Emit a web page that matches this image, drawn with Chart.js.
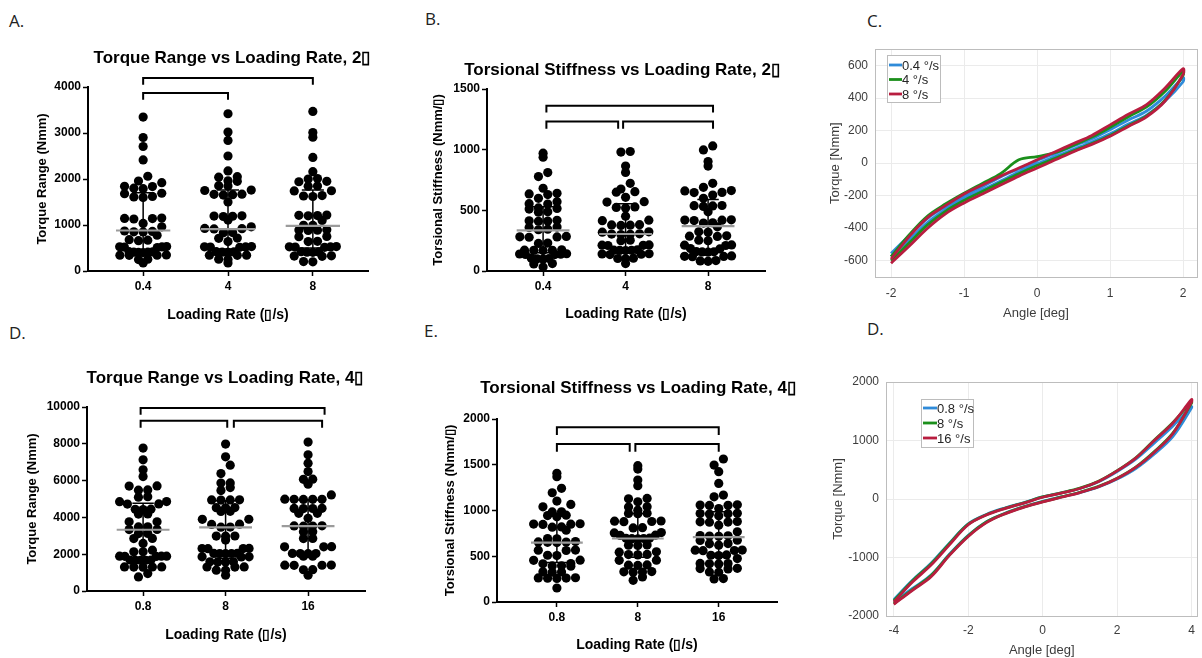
<!DOCTYPE html>
<html>
<head>
<meta charset="utf-8">
<script src="https://cdn.jsdelivr.net/npm/chart.js@4.4.1/dist/chart.umd.min.js"></script>
<style>
  body { margin: 0; background: #fff; }
  #fig { position: relative; width: 1202px; height: 658px; overflow: hidden; background: #fff; }
  canvas { position: absolute; }
  .tag { position: absolute; font: 17px "Open Sans", sans-serif; color: #222; line-height: 1; }
</style>
</head>
<body>
<div id="fig">
  <div class="tag" style="left:9px;top:12px">A.</div>
  <div class="tag" style="left:425px;top:10px">B.</div>
  <div class="tag" style="left:867px;top:12px">C.</div>
  <div class="tag" style="left:9px;top:324px">D.</div>
  <div class="tag" style="left:424px;top:322px">E.</div>
  <div class="tag" style="left:867px;top:320px">D.</div>
  <canvas id="chartA" width="400" height="290" style="left:0;top:35px"></canvas>
  <canvas id="chartB" width="400" height="290" style="left:400px;top:35px"></canvas>
  <canvas id="chartC" width="392" height="300" style="left:810px;top:35px"></canvas>
  <canvas id="chartD" width="400" height="303" style="left:0;top:355px"></canvas>
  <canvas id="chartE" width="400" height="303" style="left:400px;top:355px"></canvas>
  <canvas id="chartF" width="392" height="313" style="left:810px;top:345px"></canvas>
</div>
<script>
"use strict";

Chart.defaults.font.family = '"Liberation Sans", Arial, sans-serif';
Chart.defaults.animation = false;

// Loading rate categories
const rates2 = ['0.4', '4', '8'];
const rates4 = ['0.8', '8', '16'];

// A. Torque range (Nmm), 2 deg
const trq2At04 = [3347, 2902, 2706, 2415, 2060, 1957, 1920, 1840, 1800, 1790, 1835, 1690, 1680, 1610, 1620, 1600,
  1143, 1130, 1140, 1150, 1034, 960, 851, 860, 870, 850, 779, 670, 680, 660, 524, 530, 520, 510, 525,
  415, 420, 410, 400, 410, 405, 342, 350, 340, 345, 249, 255, 175];
const trq2At4 = [3419, 3020, 2838, 2500, 2175, 2050, 2040, 1960, 1950, 1855, 1850, 1760, 1750, 1666, 1660, 1670, 1650,
  1500, 1193, 1190, 1200, 1185, 1107, 960, 920, 925, 915, 830, 835, 710, 715, 640, 524, 530, 520, 515, 525,
  415, 420, 410, 405, 342, 345, 340, 250, 255, 175];
const trq2At8 = [3470, 3010, 2910, 2470, 2160, 2010, 2000, 1940, 1950, 1850, 1845, 1745, 1740, 1630, 1640, 1620,
  1210, 1200, 1215, 1205, 1100, 995, 990, 888, 880, 890, 895, 745, 750, 640, 645, 524, 520, 530, 515, 525,
  415, 420, 410, 405, 320, 325, 330, 200, 205];
const trq2Median = [880, 910, 980];
const trq2Q1 = [450, 480, 500];
const trq2Q3 = [1700, 1760, 1760];
const trq2Ticks = [0, 1000, 2000, 3000, 4000];
// significance brackets: [from, to, bar level, leg end]
const trq2Brackets = [[1, 3, 4196, 4051], [1, 2, 3869, 3724]];

// B. Torsional stiffness, 2 deg
const stf2At04 = [971, 938, 811, 778, 682, 635, 640, 630, 599, 571, 552, 555, 516, 520, 510, 488, 485,
  414, 410, 418, 412, 359, 362, 345, 340, 281, 285, 278, 282, 227, 230, 171, 175, 168, 172, 170,
  138, 140, 135, 142, 136, 103, 100, 106, 98, 61, 58, 33];
const stf2At4 = [985, 980, 865, 812, 723, 676, 654, 650, 607, 571, 568, 524, 520, 528, 452, 419, 415,
  378, 380, 376, 382, 323, 320, 304, 306, 300, 302, 254, 250, 213, 215, 210, 212, 171, 175, 168, 172, 170,
  138, 140, 135, 142, 103, 100, 106, 61];
const stf2At8 = [1031, 998, 902, 865, 723, 690, 663, 660, 646, 648, 626, 599, 536, 540, 532, 538, 488,
  419, 422, 416, 420, 397, 395, 364, 323, 320, 287, 290, 285, 254, 250, 213, 215, 210, 185, 182,
  157, 160, 155, 158, 121, 124, 118, 120, 83, 86, 80];
const stf2Median = [335, 305, 370];
const stf2Q1 = [150, 160, 165];
const stf2Q3 = [530, 555, 590];
const stf2Ticks = [0, 500, 1000, 1500];
const stf2Brackets = [[1.04, 3.06, 1362, 1307], [1.04, 1.91, 1233, 1172], [1.97, 3.06, 1233, 1172]];

// D. Torque range (Nmm), 4 deg
const trq4At08 = [7767, 7130, 6584, 6219, 5711, 5700, 5493, 5480, 5128, 5100, 4855, 4860, 4730, 4725, 4440, 4445, 4430,
  4184, 4180, 3764, 3760, 3491, 3480, 3349, 3340, 3131, 3120, 2858, 2850, 2586, 2220, 2127, 2130,
  1893, 1890, 1885, 1895, 1880, 1675, 1680, 1670, 1685, 1665, 1309, 1300, 1310, 1305, 1290, 949, 764];
const trq4At8 = [7985, 7293, 6838, 6384, 5875, 5870, 5620, 5458, 4948, 4950, 4940, 4955, 4530, 4525, 4535, 4330, 4325,
  3900, 3895, 3630, 3620, 3470, 3475, 2984, 2980, 2990, 2766, 2310, 2305, 2315, 2300, 2038, 2040, 2030, 2045, 2035,
  1856, 1850, 1860, 1584, 1580, 1590, 1575, 1309, 1305, 1300, 1130, 1125, 857];
const trq4At16 = [8094, 7403, 6948, 6493, 6075, 6070, 5802, 5220, 4984, 4980, 4990, 4975, 4985, 4490, 4495, 4485, 4480,
  4221, 4220, 3948, 3530, 3535, 3525, 3540, 3221, 3215, 2858, 2850, 2403, 2400, 2410, 2038, 2040, 2035, 2030,
  1893, 1890, 1400, 1405, 1395, 1410, 1160, 1155, 857];
const trq4Median = [3330, 3460, 3530];
const trq4Q1 = [1760, 1780, 1960];
const trq4Q3 = [4766, 4910, 4950];
const trq4Ticks = [0, 2000, 4000, 6000, 8000, 10000];
const trq4Brackets = [[0.97, 3.2, 9950, 9585], [0.97, 2.02, 9257, 8875], [2.1, 3.17, 9257, 8875]];

// E. Torsional stiffness, 4 deg
const stf4At08 = [1406, 1369, 1242, 1194, 1103, 1066, 1040, 986, 984, 949, 945, 931, 851, 855, 848, 852, 821, 818, 785,
  694, 690, 657, 660, 655, 652, 650, 566, 563, 568, 511, 508, 457, 455, 420, 418, 394, 396, 392,
  328, 325, 330, 263, 265, 260, 262, 258, 153];
const stf4At8 = [1490, 1453, 1333, 1271, 1132, 1128, 1095, 1040, 1038, 1004, 967, 965, 970, 883, 880, 885, 878, 810, 812,
  759, 755, 730, 728, 694, 690, 698, 692, 696, 621, 618, 624, 548, 545, 518, 515, 520, 457, 455,
  402, 400, 405, 328, 325, 330, 332, 274, 237];
const stf4At16 = [1563, 1496, 1424, 1296, 1169, 1150, 1059, 1055, 1062, 1057, 1022, 967, 965, 970, 962, 942, 876, 872, 880, 874,
  840, 767, 723, 720, 726, 718, 675, 672, 639, 636, 621, 566, 563, 568, 561, 511, 508, 514, 475,
  420, 418, 422, 416, 365, 362, 368, 328, 325, 256, 252];
const stf4Median = [650, 694, 710];
const stf4Q1 = [431, 490, 493];
const stf4Q3 = [937, 967, 986];
const stf4Ticks = [0, 500, 1000, 1500, 2000];
const stf4Brackets = [[1, 3, 1909, 1825], [1, 1.9, 1726, 1642], [1.97, 3, 1726, 1642]];

// C. Torque vs angle, 2 deg cycles (lower branch -2 -> 2, upper branch 2 -> -2)
const angle2 = [-2, -1.75, -1.5, -1.25, -1, -0.75, -0.5, -0.25, 0, 0.25, 0.5, 0.75, 1, 1.25, 1.5, 1.75, 2];
const blue2Lower = [-575, -470, -365, -285, -220, -165, -110, -55, -5, 40, 85, 130, 180, 240, 295, 380, 500];
const blue2Upper = [-555, -445, -340, -265, -200, -145, -85, -35, 15, 60, 105, 150, 205, 265, 320, 410, 525];
const green2Lower = [-600, -490, -380, -295, -230, -175, -120, -65, -15, 30, 75, 120, 170, 230, 290, 385, 540];
const green2Upper = [-575, -440, -325, -250, -185, -125, -65, 20, 40, 65, 110, 160, 220, 285, 345, 440, 565];
const red2Lower = [-615, -510, -400, -310, -245, -190, -135, -80, -30, 20, 70, 115, 165, 225, 285, 380, 545];
const red2Upper = [-590, -450, -335, -260, -190, -135, -80, -30, 20, 70, 120, 170, 235, 300, 360, 460, 580];
const angle2Ticks = [-2, -1, 0, 1, 2];
const torque2Ticks = [-600, -400, -200, 0, 200, 400, 600];

// D (right). Torque vs angle, 4 deg cycles
const angle4 = [-4, -3.5, -3, -2.5, -2, -1.5, -1, -0.5, 0, 0.5, 1, 1.5, 2, 2.5, 3, 3.5, 4];
const blue4Lower = [-1760, -1530, -1300, -940, -620, -385, -240, -130, -40, 35, 110, 205, 340, 520, 770, 1070, 1560];
const blue4Upper = [-1720, -1390, -1100, -750, -425, -260, -150, -60, 35, 105, 180, 295, 470, 680, 960, 1250, 1580];
const green4Lower = [-1790, -1550, -1310, -950, -630, -390, -245, -135, -45, 35, 115, 215, 355, 545, 810, 1130, 1640];
const green4Upper = [-1740, -1400, -1110, -760, -430, -265, -155, -65, 35, 105, 185, 305, 485, 705, 1010, 1310, 1660];
const red4Lower = [-1800, -1560, -1330, -960, -640, -400, -250, -140, -50, 30, 110, 210, 350, 540, 800, 1120, 1660];
const red4Upper = [-1760, -1420, -1130, -780, -440, -270, -160, -70, 30, 100, 180, 300, 480, 700, 1000, 1300, 1700];
const angle4Ticks = [-4, -2, 0, 2, 4];
const torque4Ticks = [-2000, -1000, 0, 1000, 2000];

const BLUE = '#2f8bd9', GREEN = '#1b8f1b', RED = '#b81d3f';

// small legend box drawn inside the plot, MATLAB style
const boxLegend = {
    id: 'boxLegend',
    afterDatasetsDraw(chart, args, opts) {
        const {ctx, chartArea} = chart;
        const x = Math.round(chartArea.left + opts.x), y = Math.round(chartArea.top + opts.y);
        ctx.save();
        ctx.fillStyle = '#fff';
        ctx.fillRect(x, y, opts.w, opts.h);
        ctx.strokeStyle = '#bcbcbc';
        ctx.lineWidth = 1;
        ctx.strokeRect(x + 0.5, y + 0.5, opts.w, opts.h);
        ctx.font = '13px "Liberation Sans", Arial, sans-serif';
        ctx.textBaseline = 'middle';
        chart.data.datasets.forEach((d, i) => {
            const ry = y + opts.first + i * opts.step;
            ctx.strokeStyle = d.borderColor;
            ctx.lineWidth = 2.8;
            ctx.beginPath();
            ctx.moveTo(x + opts.lineStart, ry);
            ctx.lineTo(x + opts.lineStart + opts.lineLen, ry);
            ctx.stroke();
            ctx.fillStyle = '#262626';
            ctx.fillText(d.label, x + opts.lineStart + opts.lineLen, ry + 1);
        });
        ctx.restore();
    }
};

// Prism style chart title, placed from the plot area
const panelTitle = {
    id: 'panelTitle',
    afterDraw(chart, args, o) {
        const {ctx, chartArea} = chart;
        ctx.save();
        ctx.font = 'bold 17px "Liberation Sans", Arial, sans-serif';
        ctx.fillStyle = '#000';
        ctx.textAlign = 'center';
        ctx.textBaseline = 'middle';
        ctx.fillText(o.text, (chartArea.left + chartArea.right) / 2 + o.dx, chartArea.top - o.dy);
        ctx.restore();
    }
};

function pathSet(points, color, width, order) {
    return {
        data: points, showLine: true, borderColor: color, borderWidth: width,
        pointRadius: 0, pointHoverRadius: 0, tension: 0, clip: false, order: order,
        borderCapStyle: 'butt', borderJoinStyle: 'miter'
    };
}

function fixedTicks(list) {
    return function (scale) {
        scale.ticks = list.map(v => ({value: v}));
    };
}

const plain = v => String(v);

// move the plot area onto the spot it has in the figure
function fitArea(chart, canvasPos, area) {
    for (let k = 0; k < 3; k++) {
        const a = chart.chartArea;
        const p = chart.config.options.layout.padding;
        p.left += (area.l - canvasPos.l) - a.left;
        p.top += (area.t - canvasPos.t) - a.top;
        p.right += a.right - (area.r - canvasPos.l);
        p.bottom += a.bottom - (area.b - canvasPos.t);
        chart.update('none');
    }
}

// Prism scatter dot layout: values are binned in pixel rows one dot high,
// each row is centred, lowest value in the middle, crowded rows squeezed
function swarm(chart, groups) {
    const xs = chart.scales.x, ys = chart.scales.y;
    const pxPerUnit = xs.getPixelForValue(1) - xs.getPixelForValue(0);
    const base = ys.getPixelForValue(0);
    const H = 9, S = 9.3, HALF = 23.5;
    const pts = [];
    groups.forEach((vals, gi) => {
        const bins = new Map();
        vals.forEach(v => {
            const b = Math.floor((base - ys.getPixelForValue(v)) / H);
            if (!bins.has(b)) bins.set(b, []);
            bins.get(b).push(v);
        });
        bins.forEach(list => {
            list.sort((a, b) => a - b);
            const n = list.length;
            const s = n > 1 ? Math.min(S, 2 * HALF / (n - 1)) : 0;
            const mid = (n - 1) / 2;
            const slots = [...Array(n).keys()].sort((a, b) => Math.abs(a - mid) - Math.abs(b - mid) || a - b);
            list.forEach((v, k) => pts.push({x: gi + 1 + (slots[k] - mid) * s / pxPerUnit, y: v}));
        });
    });
    chart.data.datasets[0].data = pts;
    chart.update('none');
}

function dotPanel(id, canvasPos, area, p) {
    const sets = [{
        data: p.groups.map((g, i) => ({x: i + 1, y: g[0]})),
        pointRadius: 4.6, pointHoverRadius: 4.6, pointBackgroundColor: '#000',
        pointBorderWidth: 0, showLine: false, order: 3
    }];
    p.groups.forEach((g, i) => {
        const c = i + 1, w = 0.13;
        sets.push(pathSet([{x: c - w, y: p.q3[i]}, {x: c + w, y: p.q3[i]}, {x: c, y: p.q3[i]},
            {x: c, y: p.q1[i]}, {x: c - w, y: p.q1[i]}, {x: c + w, y: p.q1[i]}], '#000', 1.5, 2));
        sets.push(pathSet([{x: c - 0.32, y: p.median[i]}, {x: c + 0.32, y: p.median[i]}], '#9b9b9b', 2.2, 1));
    });
    p.brackets.forEach(b => {
        sets.push(pathSet([{x: b[0], y: b[3]}, {x: b[0], y: b[2]}, {x: b[1], y: b[2]}, {x: b[1], y: b[3]}], '#000', 2, 0));
    });

    const chart = new Chart(document.getElementById(id), {
        type: 'scatter',
        data: {datasets: sets},
        plugins: [panelTitle],
        options: {
            responsive: false,
            layout: {padding: {left: 0, top: 0, right: 0, bottom: 0}},
            plugins: {
                legend: {display: false},
                tooltip: {enabled: false},
                panelTitle: {text: p.title, dx: p.titleDx, dy: p.titleDy}
            },
            scales: {
                x: {
                    type: 'linear', min: p.xMin, max: p.xMax,
                    afterBuildTicks: fixedTicks([1, 2, 3]),
                    ticks: {callback: (v, i) => p.cats[i], color: '#000', padding: 3, font: {size: 12, weight: 'bold'}},
                    grid: {display: true, drawOnChartArea: false, drawTicks: true, tickLength: 5, tickColor: '#000', tickWidth: 1.5},
                    border: {display: true, color: '#000', width: 2},
                    title: {display: true, text: 'Loading Rate (\u25AF/s)', color: '#000',
                        font: {size: 14, weight: 'bold'}, padding: {top: p.xTitleGap, bottom: 0}}
                },
                y: {
                    type: 'linear', min: 0, max: p.yTicks[p.yTicks.length - 1],
                    afterBuildTicks: fixedTicks(p.yTicks),
                    ticks: {callback: plain, color: '#000', padding: 2, font: {size: 12, weight: 'bold'}},
                    grid: {display: true, drawOnChartArea: false, drawTicks: true, tickLength: 5, tickColor: '#000', tickWidth: 1.5},
                    border: {display: true, color: '#000', width: 2},
                    title: {display: true, text: p.yTitle, color: '#000',
                        font: {size: 13, weight: 'bold'}, padding: {top: 0, bottom: p.yTitleGap}}
                }
            }
        }
    });
    fitArea(chart, canvasPos, area);
    swarm(chart, p.groups);
    return chart;
}

function loop(angles, lower, upper) {
    const pts = angles.map((a, i) => ({x: a, y: lower[i]}));
    for (let i = angles.length - 1; i >= 0; i--) pts.push({x: angles[i], y: upper[i]});
    return pts;
}

function curvePanel(id, canvasPos, area, p) {
    const mk = (label, color, pts, order) => ({
        label: label, data: pts, showLine: true, borderColor: color, borderWidth: 2.8,
        pointRadius: 0, pointHoverRadius: 0, tension: 0.35, order: order
    });
    const axisGray = '#bdbdbd', textGray = '#3c3c3c';
    const chart = new Chart(document.getElementById(id), {
        type: 'scatter',
        data: {datasets: [
            mk(p.labels[0], BLUE, p.blue, 3),
            mk(p.labels[1], GREEN, p.green, 2),
            mk(p.labels[2], RED, p.red, 1)
        ]},
        plugins: [boxLegend],
        options: {
            responsive: false,
            layout: {padding: {left: 0, top: 0, right: 0, bottom: 0}},
            plugins: {
                legend: {display: false},
                tooltip: {enabled: false},
                boxLegend: p.legend
            },
            scales: {
                x: {
                    type: 'linear', min: p.xMin, max: p.xMax,
                    afterBuildTicks: fixedTicks(p.xTicks),
                    ticks: {callback: plain, color: textGray, padding: p.xTickPad, font: {size: 12}},
                    grid: {color: '#ebebeb', drawTicks: false},
                    border: {display: true, color: axisGray, width: 1},
                    title: {display: true, text: 'Angle [deg]', color: textGray, font: {size: 13}, padding: {top: p.xTitleGap, bottom: 0}}
                },
                y: {
                    type: 'linear', min: p.yMin, max: p.yMax,
                    afterBuildTicks: fixedTicks(p.yTicks),
                    ticks: {callback: plain, color: textGray, padding: 7, font: {size: 12}},
                    grid: {color: '#ebebeb', drawTicks: false},
                    border: {display: true, color: axisGray, width: 1},
                    title: {display: true, text: 'Torque [Nmm]', color: textGray, font: {size: 13}, padding: {top: 0, bottom: p.yTitleGap}}
                },
                x2: {
                    type: 'linear', position: 'top', min: p.xMin, max: p.xMax,
                    ticks: {display: false}, grid: {display: false, drawTicks: false},
                    border: {display: true, color: axisGray, width: 1}
                },
                y2: {
                    type: 'linear', position: 'right', min: p.yMin, max: p.yMax,
                    ticks: {display: false}, grid: {display: false, drawTicks: false},
                    border: {display: true, color: axisGray, width: 1}
                }
            }
        }
    });
    fitArea(chart, canvasPos, area);
    return chart;
}

dotPanel('chartA', {l: 0, t: 35}, {l: 88, t: 87, r: 368, b: 271}, {
    title: 'Torque Range vs Loading Rate, 2\u25AF', titleDx: 4, titleDy: 29,
    yTitle: 'Torque Range (Nmm)', yTitleGap: 2, xTitleGap: 10,
    cats: rates2, xMin: 0.35, xMax: 3.65, yTicks: trq2Ticks,
    groups: [trq2At04, trq2At4, trq2At8],
    median: trq2Median, q1: trq2Q1, q3: trq2Q3, brackets: trq2Brackets
});

dotPanel('chartB', {l: 400, t: 35}, {l: 487, t: 89, r: 765, b: 271}, {
    title: 'Torsional Stiffness vs Loading Rate, 2\u25AF', titleDx: -4, titleDy: 19,
    yTitle: 'Torsional Stiffness (Nmm/\u25AF)', yTitleGap: 5, xTitleGap: 9,
    cats: rates2, xMin: 0.32, xMax: 3.69, yTicks: stf2Ticks,
    groups: [stf2At04, stf2At4, stf2At8],
    median: stf2Median, q1: stf2Q1, q3: stf2Q3, brackets: stf2Brackets
});

dotPanel('chartD', {l: 0, t: 355}, {l: 87, t: 407, r: 365, b: 591}, {
    title: 'Torque Range vs Loading Rate, 4\u25AF', titleDx: -1, titleDy: 29,
    yTitle: 'Torque Range (Nmm)', yTitleGap: 4, xTitleGap: 10,
    cats: rates4, xMin: 0.32, xMax: 3.69, yTicks: trq4Ticks,
    groups: [trq4At08, trq4At8, trq4At16],
    median: trq4Median, q1: trq4Q1, q3: trq4Q3, brackets: trq4Brackets
});

dotPanel('chartE', {l: 400, t: 355}, {l: 497, t: 419, r: 777, b: 602}, {
    title: 'Torsional Stiffness vs Loading Rate, 4\u25AF', titleDx: 1, titleDy: 31,
    yTitle: 'Torsional Stiffness (Nmm/\u25AF)', yTitleGap: 3, xTitleGap: 9,
    cats: rates4, xMin: 0.26, xMax: 3.72, yTicks: stf4Ticks,
    groups: [stf4At08, stf4At8, stf4At16],
    median: stf4Median, q1: stf4Q1, q3: stf4Q3, brackets: stf4Brackets
});

curvePanel('chartC', {l: 810, t: 35}, {l: 875, t: 47, r: 1197, b: 277}, {
    labels: ['0.4 \u00B0/s', '4 \u00B0/s', '8 \u00B0/s'],
    blue: loop(angle2, blue2Lower, blue2Upper),
    green: loop(angle2, green2Lower, green2Upper),
    red: loop(angle2, red2Lower, red2Upper),
    xMin: -2.22, xMax: 2.19, yMin: -700, yMax: 700,
    xTicks: angle2Ticks, yTicks: torque2Ticks, xTickPad: 9, xTitleGap: -4, yTitleGap: -6,
    legend: {x: 12, y: 6, w: 53, h: 47, first: 10, step: 14.5, lineStart: 2, lineLen: 13}
});

curvePanel('chartF', {l: 810, t: 345}, {l: 886, t: 382, r: 1200, b: 616}, {
    labels: ['0.8 \u00B0/s', '8 \u00B0/s', '16 \u00B0/s'],
    blue: loop(angle4, blue4Lower, blue4Upper),
    green: loop(angle4, green4Lower, green4Upper),
    red: loop(angle4, red4Lower, red4Upper),
    xMin: -4.21, xMax: 4.16, yMin: -2000, yMax: 2000,
    xTicks: angle4Ticks, yTicks: torque4Ticks, xTickPad: 7, xTitleGap: -2, yTitleGap: -5,
    legend: {x: 35, y: 17, w: 52, h: 48, first: 9, step: 15, lineStart: 2, lineLen: 14}
});
</script>
</body>
</html>
